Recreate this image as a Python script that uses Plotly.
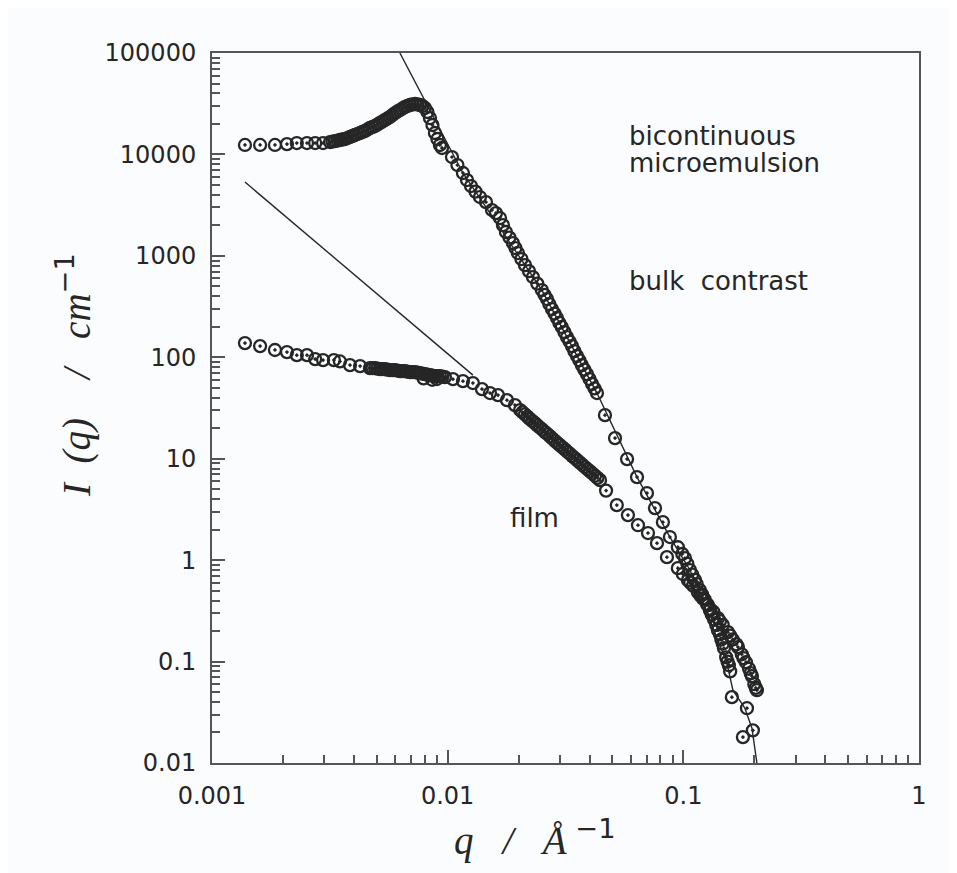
import plotly.graph_objects as go

# ---- data (q in 1/Angstrom, I in 1/cm) ----
bic_q = [1.38e-3, 1.60e-3, 1.85e-3, 2.08e-3, 2.29e-3, 2.53e-3, 2.74e-3, 2.96e-3,
         3.17e-3, 3.33e-3, 3.49e-3, 3.67e-3, 3.85e-3, 4.04e-3, 4.25e-3, 4.46e-3,
         4.68e-3, 4.92e-3, 5.16e-3, 5.42e-3, 5.69e-3, 5.98e-3, 6.28e-3, 6.59e-3,
         6.92e-3, 7.27e-3, 7.63e-3, 8.01e-3, 8.41e-3, 8.83e-3, 9.27e-3,
         9.46e-3, 1.043e-2, 1.161e-2, 1.256e-2, 1.371e-2, 1.542e-2, 1.667e-2,
         1.767e-2, 1.892e-2, 1.987e-2, 2.128e-2, 2.30e-2, 2.51e-2,
         2.64e-2, 2.77e-2, 2.91e-2, 3.05e-2, 3.21e-2, 3.37e-2, 3.54e-2, 3.71e-2,
         3.90e-2, 4.10e-2, 4.30e-2,
         4.65e-2, 5.13e-2, 5.77e-2, 6.36e-2, 7.01e-2, 7.58e-2, 8.19e-2, 8.77e-2,
         9.48e-2, 0.1016, 0.1067, 0.112, 0.1175, 0.123, 0.1297, 0.135, 0.1402,
         0.145, 0.1487, 0.152, 0.156, 0.1607, 0.1862, 0.1973, 0.179, 0.1917,
         # additional readings along the dense bands
         3.245e-3, 3.41e-3, 3.58e-3, 3.76e-3, 3.95e-3, 4.14e-3, 4.35e-3, 4.57e-3,
         4.80e-3, 5.04e-3, 5.29e-3, 5.55e-3, 5.83e-3, 6.12e-3, 6.43e-3, 6.75e-3,
         7.09e-3, 7.45e-3, 7.82e-3, 8.21e-3, 8.62e-3, 9.05e-3,
         1.10e-2, 1.208e-2, 1.312e-2, 1.454e-2, 1.603e-2, 1.716e-2, 1.829e-2,
         1.94e-2, 2.056e-2, 2.213e-2, 2.40e-2,
         2.575e-2, 2.70e-2, 2.84e-2, 2.98e-2, 3.13e-2, 3.29e-2, 3.45e-2, 3.62e-2,
         3.80e-2, 4.00e-2, 4.20e-2,
         0.099, 0.104, 0.109, 0.114, 0.120, 0.126, 0.132, 0.138, 0.143, 0.147,
         0.154, 0.158]
bic_I = [12400, 12400, 12400, 12650, 12950, 12950, 12950, 12950,
         13250, 13550, 13870, 14190, 14850, 15540, 16260, 17020,
         18220, 19060, 20410, 21840, 23370, 25590, 27400, 29340,
         30700, 31410, 30700, 28690, 22850, 16260, 12380,
         11570, 9420, 6560, 4880, 3800, 2830, 2360,
         1718, 1337, 1066, 811, 618, 460,
         375, 299, 244, 199, 158, 129, 103, 83.8,
         68.3, 54.5, 44.4,
         26.9, 15.96, 9.91, 6.59, 4.58, 3.26, 2.37, 1.69,
         1.34, 1.046, 0.797, 0.64, 0.506, 0.41, 0.321, 0.26, 0.204,
         0.165, 0.1356, 0.11, 0.092, 0.0446, 0.0347, 0.021, 0.018, 0.0089,
         13400, 13710, 14030, 14510, 15190, 15890, 16640, 17610,
         18630, 19720, 21120, 22600, 24470, 26500, 28370, 30020,
         31070, 31070, 30020, 26200, 19500, 14190,
         7860, 5590, 4300, 3390, 2640, 2010, 1515,
         1194, 930, 708, 533,
         413, 335, 270, 218, 177, 143, 115, 93.4,
         75.5, 61.0, 49.3,
         1.15, 0.92, 0.72, 0.58, 0.46, 0.37, 0.29, 0.23, 0.185, 0.15,
         0.10, 0.08]

film_q = [1.38e-3, 1.60e-3, 1.85e-3, 2.08e-3, 2.29e-3, 2.53e-3, 2.74e-3, 2.96e-3,
          3.29e-3, 3.49e-3, 3.85e-3, 4.25e-3,
          4.68e-3, 4.92e-3, 5.16e-3, 5.42e-3, 5.69e-3, 5.98e-3, 6.28e-3, 6.59e-3,
          6.92e-3, 7.27e-3, 7.63e-3, 8.01e-3, 8.41e-3, 8.83e-3, 9.27e-3, 9.74e-3,
          7.9e-3, 8.6e-3, 9.0e-3,
          1.053e-2, 1.161e-2, 1.28e-2, 1.398e-2, 1.512e-2, 1.635e-2, 1.785e-2, 1.93e-2,
          2.03e-2, 2.13e-2, 2.23e-2, 2.35e-2, 2.46e-2, 2.59e-2, 2.72e-2, 2.85e-2,
          2.99e-2, 3.15e-2, 3.30e-2, 3.47e-2, 3.64e-2, 3.82e-2, 4.02e-2, 4.22e-2, 4.43e-2,
          4.70e-2, 5.22e-2, 5.82e-2, 6.42e-2, 7.08e-2, 7.73e-2, 8.52e-2,
          9.48e-2, 0.1046, 0.110, 0.1153, 0.121, 0.1272, 0.134, 0.1402, 0.147,
          0.1546, 0.162, 0.1705, 0.177, 0.1843, 0.190, 0.1955, 0.200, 0.2052,
          # additional readings along the dense bands
          4.80e-3, 5.04e-3, 5.29e-3, 5.55e-3, 5.83e-3, 6.12e-3, 6.43e-3, 6.75e-3,
          7.09e-3, 7.45e-3, 7.82e-3, 8.21e-3, 8.62e-3, 9.05e-3, 9.50e-3,
          2.077e-2, 2.18e-2, 2.29e-2, 2.40e-2, 2.525e-2, 2.65e-2, 2.78e-2, 2.92e-2,
          3.07e-2, 3.22e-2, 3.38e-2, 3.55e-2, 3.73e-2, 3.92e-2, 4.12e-2, 4.32e-2,
          0.0995, 0.107, 0.118, 0.130, 0.143, 0.158, 0.168, 0.180, 0.193, 0.203]
film_I = [138, 129, 118, 112.5, 105, 105, 96, 93.8,
          93.8, 91, 83.8, 81.9,
          78.2, 78.2, 76.5, 76.5, 74.8, 74.8, 73.1, 73.1,
          71.4, 71.4, 69.8, 68.3, 66.7, 65.2, 65.2, 63.8,
          62, 60, 61,
          60.9, 58.2, 55.7, 48.6, 44.4, 42.4, 37.8, 33.8,
          30.2, 27.3, 24.7, 22.4, 20.3, 18.3, 16.6, 15.0,
          13.6, 12.3, 11.2, 10.1, 9.16, 8.28, 7.50, 6.79, 6.15,
          4.85, 3.49, 2.78, 2.21, 1.85, 1.47, 1.07,
          0.834, 0.635, 0.56, 0.483, 0.42, 0.360, 0.31, 0.268, 0.23,
          0.195, 0.165, 0.139, 0.118, 0.0986, 0.085, 0.0718, 0.06, 0.0522,
          78.2, 77.4, 76.5, 75.6, 74.8, 74.0, 73.1, 72.3,
          71.4, 70.6, 69.1, 67.5, 66.0, 65.2, 64.5,
          28.7, 26.0, 23.5, 21.3, 19.3, 17.5, 15.8, 14.3,
          12.95, 11.7, 10.6, 9.62, 8.71, 7.87, 7.14, 6.47,
          0.73, 0.60, 0.45, 0.33, 0.25, 0.18, 0.148, 0.108, 0.077, 0.055]

# fitted curves
bic_fit_q = [0.00627, 0.0116, 0.0251, 0.043, 0.0636, 0.0877, 0.1067, 0.1531,
             0.1623, 0.1825, 0.1955, 0.2052]
bic_fit_I = [100000, 6560, 460, 44.4, 6.59, 1.69, 0.80, 0.0964,
             0.0522, 0.0347, 0.022, 0.01]
film_fit_q = [0.00138, 0.0128]
film_fit_I = [5340, 66.7]

x_ticks = [0.001, 0.01, 0.1, 1]
x_ticktext = ["0.001", "0.01", "0.1", "1"]
y_ticks = [0.01, 0.1, 1, 10, 100, 1000, 10000, 100000]
y_ticktext = ["0.01", "0.1", "1", "10", "100", "1000", "10000", "100000"]

INK = "#262626"
AX = "#555555"

fig = go.Figure()
fig.add_trace(go.Scatter(x=bic_fit_q, y=bic_fit_I, mode="lines",
                         line=dict(color=INK, width=1.4), hoverinfo="skip"))
fig.add_trace(go.Scatter(x=film_fit_q, y=film_fit_I, mode="lines",
                         line=dict(color=INK, width=1.4), hoverinfo="skip"))
marker = dict(symbol="circle-open-dot", size=12, color=INK, line=dict(width=2.3, color=INK))
fig.add_trace(go.Scatter(x=bic_q, y=bic_I, mode="markers", marker=marker,
                         cliponaxis=False, name="bicontinuous"))
fig.add_trace(go.Scatter(x=film_q, y=film_I, mode="markers", marker=marker,
                         cliponaxis=False, name="film"))

tickfont = dict(family="DejaVu Sans", size=24, color=INK)
common = dict(type="log", showgrid=False, zeroline=False, showline=True,
              linecolor=AX, linewidth=2, mirror=True, ticks="inside",
              ticklen=13, tickwidth=1.5, tickcolor=AX, tickfont=tickfont,
              tickmode="array",
              minor=dict(ticks="inside", ticklen=8, tickwidth=1.5, tickcolor=AX,
                         dtick="D1", showgrid=False))
fig.update_xaxes(range=[-3, 0], tickvals=x_ticks, ticktext=x_ticktext,
                 ticklabelstandoff=10, **common)
fig.update_yaxes(range=[-2, 5], tickvals=y_ticks, ticktext=y_ticktext,
                 ticklabelstandoff=9, **common)

# page is drawn with an 8px body margin; plot area placed to match the reference
OFF = 8
W, H = 957 - OFF, 873 - OFF
L, R, T, B = 212, 919, 53, 763          # plot-area edges in reference pixels
pw, ph = R - L, B - T


def px(x):
    return (x - L) / pw


def py(y):
    return 1 - (y - T) / ph


nb = "\u00a0"
serif = dict(family="Liberation Serif", size=39, color=INK)
sup = "<sup><span style='font-family:DejaVu Sans'>"
annotations = [
    dict(text="<i>I</i>" + nb * 2 + "<i>(q)</i>" + nb * 4 + "<i>/</i>" + nb * 3 +
              "<i>cm</i>" + sup + "−1</span></sup>",
         x=px(74), y=py(375), textangle=-90),
    dict(text="<i>q</i>" + nb * 3 + "<i>/</i>" + nb * 3 +
              "<i>Å</i>" + sup + nb + "−1</span></sup>",
         x=px(535), y=py(838)),
]
for a in annotations:
    a.update(xref="paper", yref="paper", xanchor="center", yanchor="middle",
             showarrow=False, font=serif)

label_font = dict(family="DejaVu Sans", size=26, color=INK)
labels = [
    ("bicontinuous", 627, 136),
    ("microemulsion", 627, 163),
    ("bulk" + nb * 2 + "contrast", 627, 281),
    ("film", 508, 518),
]
for text, x, y in labels:
    annotations.append(dict(text=text, x=px(x), y=py(y), xref="paper", yref="paper",
                            xanchor="left", yanchor="middle", align="left",
                            showarrow=False, font=label_font))

fig.update_layout(width=W, height=H,
                  margin=dict(l=L - OFF, r=W - (R - OFF), t=T - OFF, b=H - (B - OFF)),
                  paper_bgcolor="#fbfcfd", plot_bgcolor="#fbfcfd",
                  showlegend=False, annotations=annotations)

fig.write_html("out.html")
